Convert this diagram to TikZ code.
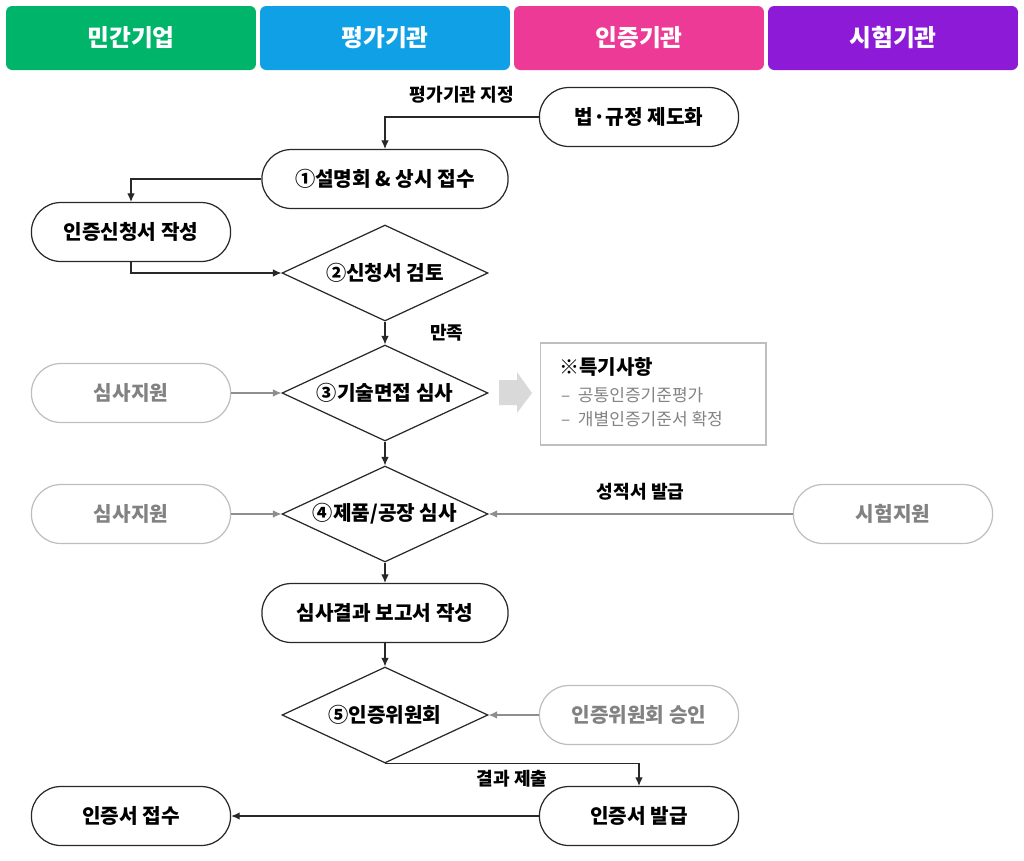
\documentclass[tikz,border=0pt]{standalone}
\usepackage{fontspec}
\setmainfont{Noto Sans CJK KR}
\usetikzlibrary{shapes.misc,shapes.geometric,arrows.meta}

\definecolor{cgreen}{RGB}{0,180,106}
\definecolor{cblue}{RGB}{15,160,230}
\definecolor{cpink}{RGB}{236,58,150}
\definecolor{cpurple}{RGB}{140,26,214}
\definecolor{cline}{RGB}{40,40,40}
\definecolor{csub}{RGB}{190,190,190}
\definecolor{csubtext}{RGB}{130,130,130}

\begin{document}
\begin{tikzpicture}[x=0.02cm, y=-0.02cm,
    head/.style={rectangle, rounded corners=3.5pt, minimum width=5cm, minimum height=1.28cm,
      text=white, font=\bfseries\fontsize{13.5}{15}\selectfont},
    proc/.style={rounded rectangle, draw=cline, line width=0.7pt, minimum width=4.22cm,
      minimum height=1.18cm, font=\bfseries\fontsize{11.5}{13}\selectfont},
    procw/.style={proc, minimum width=5.16cm},
    sub/.style={proc, draw=csub, text=csubtext},
    dec/.style={diamond, draw=cline, line width=0.7pt, inner sep=0pt, aspect=2.15,
      minimum width=4.12cm, minimum height=1.92cm, font=\bfseries\fontsize{11.5}{13}\selectfont},
    lbl/.style={font=\bfseries\fontsize{10.3}{12}\selectfont},
    flow/.style={-{Latex[length=1.7mm,width=1.5mm]}, line width=0.6pt, draw=cline},
    subflow/.style={flow, draw=csubtext!90}]
  \useasboundingbox (0,0) rectangle (1024,860);

  % lanes
  \node[head, fill=cgreen] (h1) at (131,38) {민간기업};
  \node[head, fill=cblue] (h2) at (385,38) {평가기관};
  \node[head, fill=cpink] (h3) at (639,38) {인증기관};
  \node[head, fill=cpurple] (h4) at (893,38) {시험기관};

  % main steps
  \node[proc] (law) at (639,117) {법·규정 제도화};
  \node[procw] (s1) at (385,179) {①설명회 \& 상시 접수};
  \node[proc] (apply) at (131,232) {인증신청서 작성};
  \node[dec] (s2) at (385,273) {②신청서 검토};
  \node[dec] (s3) at (385,393) {③기술면접 심사};
  \node[dec] (s4) at (385,514) {④제품/공장 심사};
  \node[procw] (report) at (385,613) {심사결과 보고서 작성};
  \node[dec] (s5) at (385,715) {⑤인증위원회};
  \node[proc] (issue) at (639,816) {인증서 발급};
  \node[proc] (receive) at (131,816) {인증서 접수};

  % support
  \node[sub] (sup1) at (131,393) {심사지원};
  \node[sub] (sup2) at (131,514) {심사지원};
  \node[sub] (test) at (893,514) {시험지원};
  \node[sub] (approve) at (639,715) {인증위원회 승인};

  % note
  \node[rectangle, draw=csub, line width=0.6pt, minimum width=4.52cm, minimum height=2.04cm] (note) at (653,394) {};
  \node[anchor=west, font=\bfseries\fontsize{11.4}{13}\selectfont] (notetitle) at (553,367) {※특기사항};
  \node[anchor=west, text=csubtext, font=\fontsize{9.7}{11}\selectfont] (noteA) at (555,395) {–\ \ 공통인증기준평가};
  \node[anchor=west, text=csubtext, font=\fontsize{9.7}{11}\selectfont] (noteB) at (555,419) {–\ \ 개별인증기준서 확정};
  \fill[gray!30] (499,380) -- (517,380) -- (517,372) -- (532,393) -- (517,413) -- (517,405) -- (499,405) -- cycle;

  % connectors
  \draw[flow] (law.west) -| (s1.north) node[lbl, pos=0.25, above=4pt] {평가기관 지정};
  \draw[flow] (s1.west) -| (apply.north);
  \draw[flow] (apply.south) |- (s2.west);
  \draw[flow] (s2.south) -- (s3.north) node[lbl, midway, right=22pt] {만족};
  \draw[flow] (s3.south) -- (s4.north);
  \draw[flow] (s4.south) -- (report.north);
  \draw[flow] (report.south) -- (s5.north);
  \draw[flow] (s5.south) -| (issue.north) node[lbl, pos=0.25, below=0pt] {결과 제출};
  \draw[flow] (issue.west) -- (receive.east);
  \draw[subflow] (sup1.east) -- (s3.west);
  \draw[subflow] (sup2.east) -- (s4.west);
  \draw[subflow] (test.west) -- (s4.east) node[lbl, midway, above=4pt] {성적서 발급};
  \draw[subflow] (approve.west) -- (s5.east);
\end{tikzpicture}
\end{document}
